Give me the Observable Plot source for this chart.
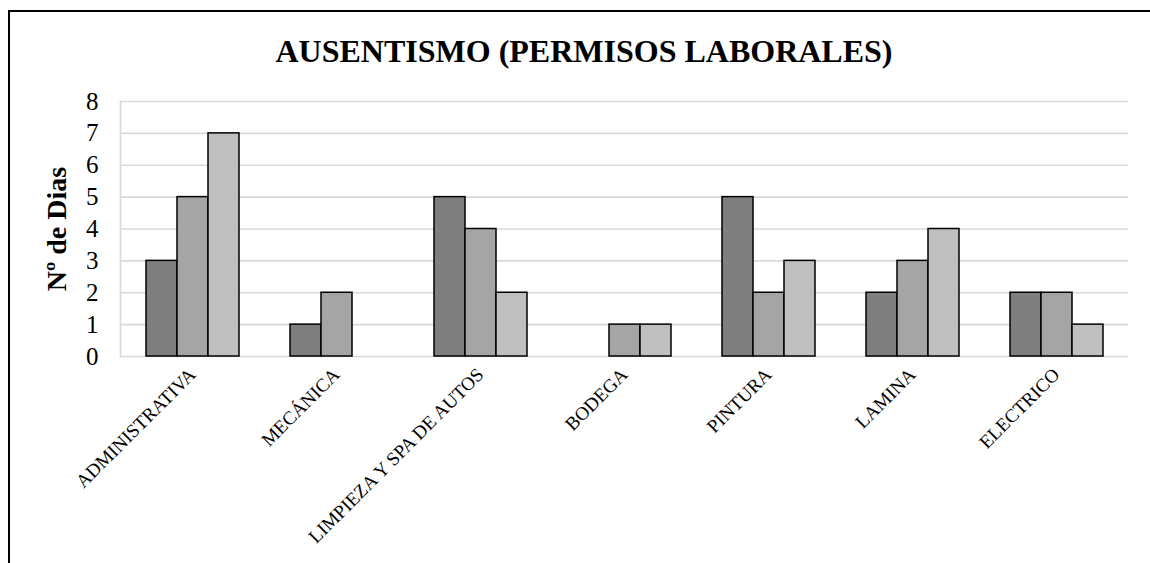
<!DOCTYPE html>
<html>
<head>
<meta charset="utf-8">
<script src="https://cdn.jsdelivr.net/npm/d3@7"></script>
<script src="https://cdn.jsdelivr.net/npm/@observablehq/plot@0.6"></script>
<style>
  html, body { margin: 0; padding: 0; background: #fff; }
  #wrap { position: relative; width: 1150px; height: 563px; overflow: hidden; background: #fff; }
  #frame { position: absolute; left: 8px; top: 10px; width: 1200px; height: 600px;
           border-left: 2px solid #000; border-top: 2px solid #000; box-sizing: border-box; }
  #title { position: absolute; left: 0; width: 1168px; top: 32px; margin: 0; text-align: center;
           font-family: "Liberation Serif", "Times New Roman", serif; font-weight: bold; font-size: 32px;
           line-height: 38px; color: #000; }
  #chart { position: absolute; left: 0; top: 0; }
  #chart svg, #chart svg text { font-family: "Liberation Serif", "Times New Roman", serif !important; fill: #000; }
  g[aria-label="y-axis tick label"] text { font-size: 25px !important; }
  g[aria-label="fx-axis tick label"] text { font-size: 19px !important; }
  g[aria-label="y-axis label"] text { font-weight: bold; font-size: 28px !important; }
</style>
</head>
<body>
<div id="wrap">
  <div id="frame"></div>
  <div id="chart"></div>
  <h2 id="title">AUSENTISMO (PERMISOS LABORALES)</h2>
</div>
<script>
const categories = ["ADMINISTRATIVA", "MECÁNICA", "LIMPIEZA Y SPA DE AUTOS", "BODEGA", "PINTURA", "LAMINA", "ELECTRICO"];
const seriesNames = ["Serie 1", "Serie 2", "Serie 3"];
const serie1 = [3, 1, 5, 0, 5, 2, 2];
const serie2 = [5, 2, 4, 1, 2, 3, 2];
const serie3 = [7, 0, 2, 1, 3, 4, 1];
const yTicks = [0, 1, 2, 3, 4, 5, 6, 7, 8];
const seriesColors = ["#7f7f7f", "#a5a5a5", "#bfbfbf"];
const yLabel = "Nº de Dias";

const seriesValues = [serie1, serie2, serie3];
const data = [];
categories.forEach((c, i) => {
  seriesValues.forEach((vals, s) => {
    data.push({categoria: c, serie: seriesNames[s], valor: vals[i]});
  });
});
const bars = data.filter(d => d.valor > 0);

const plot = Plot.plot({
  width: 1150,
  height: 563,
  marginTop: 101,
  marginBottom: 207,
  marginLeft: 119,
  marginRight: 21,
  style: {background: "transparent", overflow: "visible", fontFamily: "Liberation Serif, Times New Roman, serif"},
  fx: {domain: categories, padding: 0, label: null},
  x: {domain: seriesNames, paddingInner: 0, paddingOuter: 0.755, axis: null},
  y: {domain: [0, 8], label: null},
  color: {domain: seriesNames, range: seriesColors},
  marks: [
    Plot.ruleY(yTicks, {stroke: "#d9d9d9", strokeWidth: 1.6}),
    Plot.frame({anchor: "left", stroke: "#d9d9d9", strokeWidth: 1.6, facet: "super"}),
    Plot.barY(bars, {fx: "categoria", x: "serie", y: "valor", fill: "serie", stroke: "#000", strokeWidth: 1.5}),
    Plot.axisY({ticks: yTicks, tickSize: 0, tickPadding: 22, fontSize: 25, tickFormat: d => String(d),
                label: yLabel, labelAnchor: "center", labelOffset: 74, labelArrow: "none"}),
    Plot.axisFx({anchor: "bottom", tickSize: 0, tickPadding: 15, tickRotate: -45, fontSize: 19, dx: 0, label: null})
  ]
});
document.getElementById("chart").appendChild(plot);
</script>
</body>
</html>
